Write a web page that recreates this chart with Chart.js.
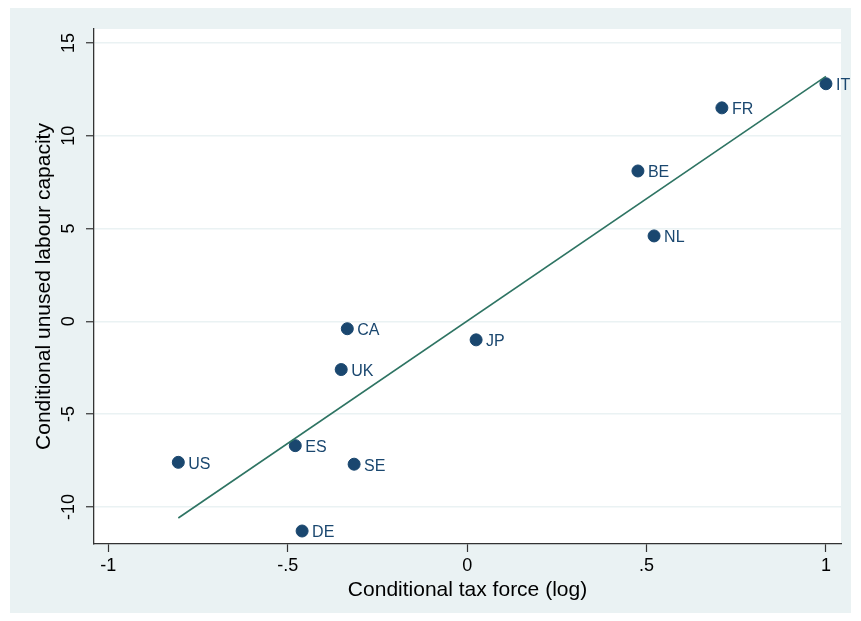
<!DOCTYPE html>
<html lang="en">
<head>
  <meta charset="UTF-8" />
  <title>Tax force vs unused labour capacity</title>
  <script src="https://cdn.jsdelivr.net/npm/chart.js"></script>
  <style>
    body { margin: 0; background: #fff; font-family: 'Liberation Sans', Arial, sans-serif; }
    #wrap { position: absolute; left: 10px; top: 8px; width: 841px; height: 605px; background: #eaf2f3; }
  </style>
</head>
<body>
  <div id="wrap"><canvas id="chart"></canvas></div>

  <script>
    // data
    const countries = ['IT', 'FR', 'BE', 'NL', 'JP', 'CA', 'UK', 'ES', 'SE', 'US', 'DE'];
    const taxForce  = [1.00, 0.71, 0.476, 0.521, 0.025, -0.334, -0.351, -0.479, -0.315, -0.805, -0.46];
    const unusedCap = [12.8, 11.5, 8.1, 4.6, -1.0, -0.4, -2.6, -6.7, -7.7, -7.6, -11.3];
    const fitX = [-0.805, 1.0];
    const fitY = [-10.6, 13.2];
    const xTicks = [-1, -0.5, 0, 0.5, 1];
    const xTickLabels = ['-1', '-.5', '0', '.5', '1'];
    const yTicks = [-10, -5, 0, 5, 10, 15];

    const navy = '#1a476f';
    const fitColor = '#2e7463';
    const fontFam = '"Liberation Sans", Arial, sans-serif';

    const bgPlugin = {
      id: 'plotBg',
      beforeDraw(chart) {
        const { ctx, chartArea: a } = chart;
        ctx.save();
        ctx.fillStyle = '#ffffff';
        ctx.fillRect(a.left, a.top, a.right - a.left, a.bottom - a.top);
        ctx.restore();
      }
    };

    const textPlugin = {
      id: 'texts',
      afterDraw(chart) {
        const { ctx } = chart;
        const xs = chart.scales.x, ys = chart.scales.y;
        ctx.save();
        // rotated y tick labels
        ctx.fillStyle = '#000';
        ctx.font = '18px ' + fontFam;
        ctx.textAlign = 'center';
        ctx.textBaseline = 'middle';
        yTicks.forEach(v => {
          ctx.save();
          ctx.translate(59, ys.getPixelForValue(v));
          ctx.rotate(-Math.PI / 2);
          ctx.fillText(String(v), 0, 0);
          ctx.restore();
        });
        // country labels
        ctx.fillStyle = navy;
        ctx.font = '16px ' + fontFam;
        ctx.textAlign = 'left';
        countries.forEach((c, i) => {
          ctx.fillText(c, xs.getPixelForValue(taxForce[i]) + 10, ys.getPixelForValue(unusedCap[i]) + 2);
        });
        ctx.restore();
      }
    };

    new Chart(document.getElementById('chart'), {
      data: {
        datasets: [
          {
            type: 'scatter',
            data: taxForce.map((x, i) => ({ x, y: unusedCap[i] })),
            backgroundColor: navy,
            borderColor: navy,
            pointRadius: 6,
            pointHoverRadius: 6,
            order: 2
          },
          {
            type: 'line',
            data: fitX.map((x, i) => ({ x, y: fitY[i] })),
            borderColor: fitColor,
            borderWidth: 1.6,
            pointRadius: 0,
            fill: false,
            order: 1
          }
        ]
      },
      options: {
        responsive: true,
        maintainAspectRatio: false,
        animation: false,
        layout: { padding: { top: 21, right: 10, left: 0, bottom: 0 } },
        plugins: { legend: { display: false }, tooltip: { enabled: false } },
        scales: {
          x: {
            type: 'linear',
            min: -1.04, max: 1.042,
            afterBuildTicks: s => { s.ticks = xTicks.map(v => ({ value: v })); },
            afterFit: s => { s.height = 69; },
            ticks: {
              color: '#000',
              font: { size: 18, family: fontFam },
              padding: 3,
              maxRotation: 0,
              callback: v => xTickLabels[xTicks.indexOf(v)]
            },
            grid: { drawOnChartArea: false, tickLength: 8, tickColor: '#333', tickWidth: 1.2 },
            border: { color: '#333', width: 1.3 },
            title: {
              display: true,
              text: 'Conditional tax force (log)',
              color: '#000',
              font: { size: 21, family: fontFam },
              padding: { top: 0, bottom: 10 }
            }
          },
          y: {
            type: 'linear',
            min: -12.0, max: 15.75,
            afterBuildTicks: s => { s.ticks = yTicks.map(v => ({ value: v })); },
            afterFit: s => { s.width = 84; },
            ticks: { display: false },
            grid: { color: '#eaf2f3', lineWidth: 1.5, tickLength: 8, tickColor: '#333', tickWidth: 1.2 },
            border: { color: '#333', width: 1.3 },
            title: {
              display: true,
              text: 'Conditional unused labour capacity',
              color: '#000',
              font: { size: 21, family: fontFam },
              padding: { top: 22, bottom: 0 }
            }
          }
        }
      },
      plugins: [bgPlugin, textPlugin]
    });
  </script>
</body>
</html>
